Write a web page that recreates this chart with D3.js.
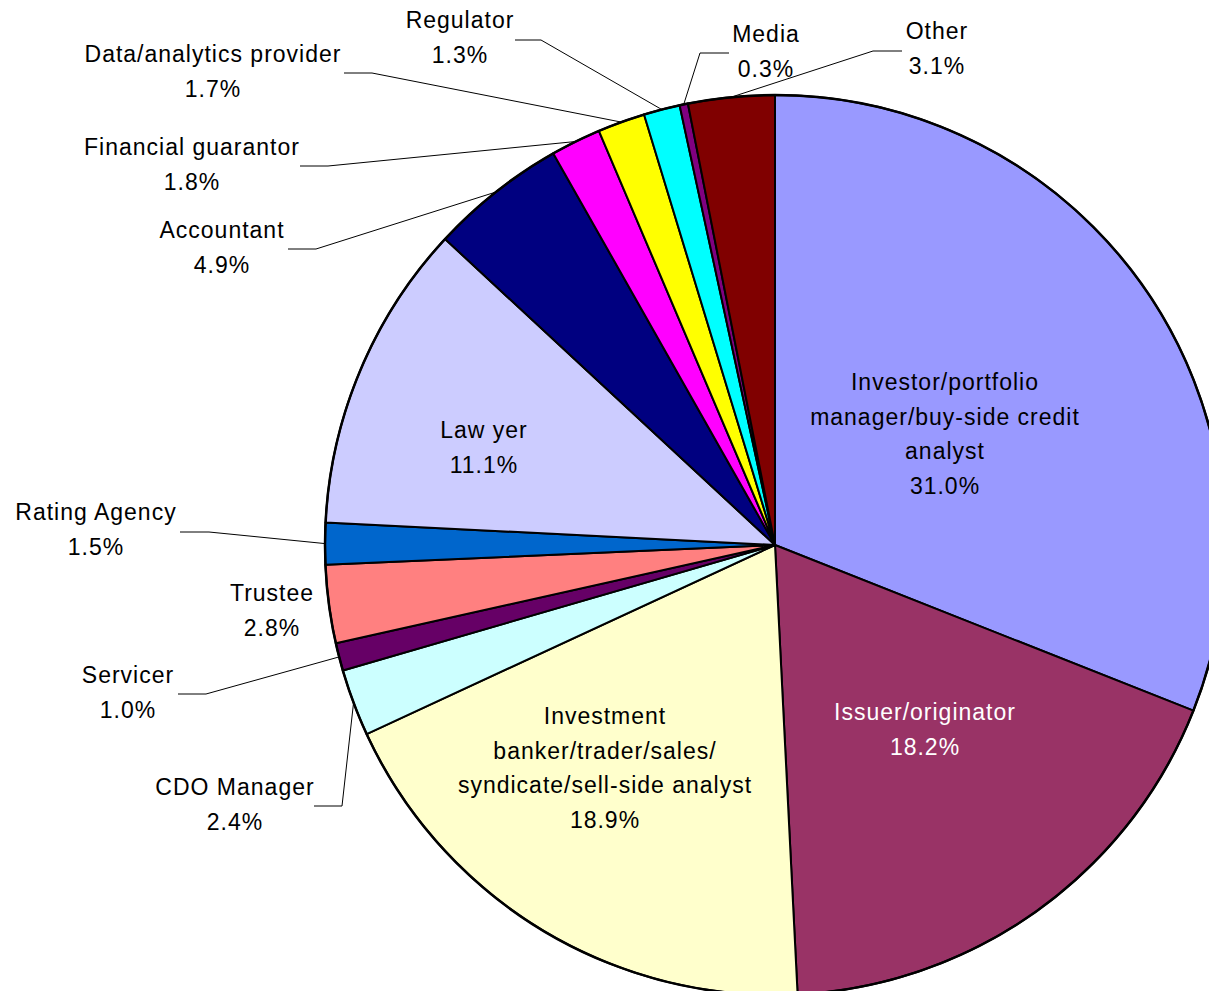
<!DOCTYPE html>
<html><head><meta charset="utf-8">
<script src="https://cdn.jsdelivr.net/npm/d3@7"></script>
<style>
html,body{margin:0;padding:0;background:#fff;}
svg{display:block;}
text{font-family:"Liberation Sans",Arial,sans-serif;font-size:23px;letter-spacing:1px;}
</style></head>
<body>
<svg id="chart" width="1209" height="991"></svg>
<script>
// ---- data ----
const categories = ["Investor/portfolio manager/buy-side credit analyst","Issuer/originator","Investment banker/trader/sales/syndicate/sell-side analyst","CDO Manager","Servicer","Trustee","Rating Agency","Lawyer","Accountant","Financial guarantor","Data/analytics provider","Regulator","Media","Other"];
const values = [31.0, 18.2, 18.9, 2.4, 1.0, 2.8, 1.5, 11.1, 4.9, 1.8, 1.7, 1.3, 0.3, 3.1];
const labelLines = [
  ["Investor/portfolio","manager/buy-side credit","analyst"],
  ["Issuer/originator"],
  ["Investment","banker/trader/sales/","syndicate/sell-side analyst"],
  ["CDO Manager"],["Servicer"],["Trustee"],["Rating Agency"],
  ["Law yer"],["Accountant"],["Financial guarantor"],["Data/analytics provider"],
  ["Regulator"],["Media"],["Other"]
];
const colors = ["#9999FF","#993366","#FFFFCC","#CCFFFF","#660066","#FF8080","#0066CC","#CCCCFF","#000080","#FF00FF","#FFFF00","#00FFFF","#800080","#800000"];

// ---- layout (label placement) ----
// lx,ly: center x and center y of first text line; ex,ey: leader elbow; tx: end of horizontal segment
const layout = [
  {lx:945, ly:382, fill:"#000"},
  {lx:925, ly:712, fill:"#fff"},
  {lx:605, ly:716, fill:"#000"},
  {lx:235, ly:787, ex:342, ey:806, tx:314},
  {lx:128, ly:675, ex:206, ey:694, tx:178},
  {lx:272, ly:593},
  {lx:96,  ly:512, ex:209, ey:532, tx:180},
  {lx:484, ly:430, fill:"#000"},
  {lx:222, ly:230, ex:316, ey:249, tx:288},
  {lx:192, ly:147, ex:328, ey:166, tx:300},
  {lx:213, ly:54,  ex:372, ey:73,  tx:344},
  {lx:460, ly:20,  ex:541, ey:40,  tx:515},
  {lx:766, ly:34,  ex:700, ey:53,  tx:729},
  {lx:937, ly:31,  ex:873, ey:51,  tx:902}
];

const cx = 775, cy = 545, R = 450, lineH = 34.5;
const svg = d3.select("#chart");
const data = categories.map((c,i)=>({name:c, value:values[i], i}));
const pie = d3.pie().sort(null).value(d=>d.value).startAngle(0).endAngle(2*Math.PI);
const arcs = pie(data);
const arc = d3.arc().innerRadius(0).outerRadius(R);
const g = svg.append("g").attr("transform",`translate(${cx},${cy})`);

g.selectAll("path.slice").data(arcs).join("path")
  .attr("class","slice")
  .attr("d",arc)
  .attr("fill",d=>colors[d.data.i])
  .attr("stroke","#000").attr("stroke-width",2).attr("stroke-linejoin","round");

// outer border
g.append("circle").attr("r",R).attr("fill","none").attr("stroke","#000").attr("stroke-width",2.5);

// leader lines
arcs.forEach(a=>{
  const L = layout[a.data.i];
  if (L.ex === undefined) return;
  const mid = (a.startAngle + a.endAngle)/2;
  const px = cx + R*Math.sin(mid), py = cy - R*Math.cos(mid);
  svg.append("path")
    .attr("d",`M${px},${py}L${L.ex},${L.ey}L${L.tx},${L.ey}`)
    .attr("fill","none").attr("stroke","#000").attr("stroke-width",1);
});

// labels
arcs.forEach(a=>{
  const i = a.data.i, L = layout[i];
  const lines = labelLines[i].concat([values[i].toFixed(1)+"%"]);
  const t = svg.append("text").attr("text-anchor","middle").attr("fill",L.fill||"#000");
  lines.forEach((s,k)=>{
    t.append("tspan").attr("x",L.lx).attr("y",L.ly + k*lineH + 8).text(s);
  });
});
</script>
</body></html>
